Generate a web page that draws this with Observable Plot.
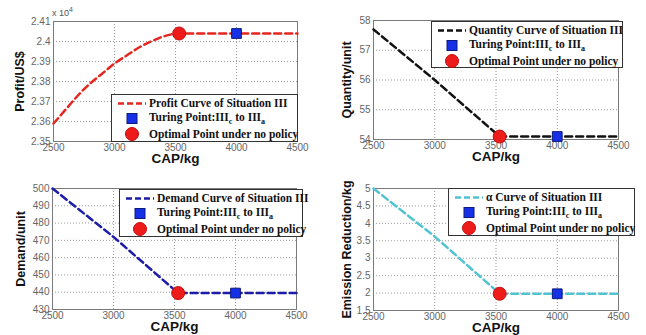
<!DOCTYPE html>
<html><head><meta charset="utf-8">
<script src="https://cdn.jsdelivr.net/npm/d3@7"></script>
<script src="https://cdn.jsdelivr.net/npm/@observablehq/plot@0.6"></script>
<style>
body{margin:0;background:#fff;}
#wrap{position:relative;width:646px;height:335px;overflow:hidden;background:#fff;font-family:"Liberation Sans",Arial,sans-serif;}
.panel{position:absolute;}
.legend{position:absolute;background:#fff;border:1px solid #333;box-sizing:border-box;font-family:"Liberation Serif","Times New Roman",serif;font-weight:bold;font-size:11.5px;color:#111;}
.legend .row{position:absolute;left:37px;white-space:nowrap;line-height:13px;}
.legend svg{position:absolute;left:0;top:0;}
.legend sub{font-size:8px;vertical-align:-3px;line-height:0;}
.exp{position:absolute;font-size:9px;color:#555;white-space:nowrap;}
.exp sup{font-size:7px;vertical-align:4px;line-height:0;}
</style></head><body><div id="wrap"></div>
<script>
// ---- data ----
const xTicks = [2500, 3000, 3500, 4000, 4500];
const xLabel = "CAP/kg";

const profitCap = [2500, 2600, 2700, 2800, 2900, 3000, 3100, 3200, 3300, 3400, 3530, 4500];
const profitVal = [2.359, 2.366, 2.373, 2.379, 2.384, 2.389, 2.393, 2.397, 2.400, 2.4025, 2.404, 2.404];
const profitTicks = [2.35, 2.36, 2.37, 2.38, 2.39, 2.40, 2.41];

const qtyCap = [2500, 2750, 3000, 3250, 3530, 4500];
const qtyVal = [57.7, 56.85, 56.0, 55.1, 54.1, 54.1];
const qtyTicks = [54, 55, 56, 57, 58];

const demandCap = [2500, 3000, 3530, 4500];
const demandVal = [500, 472, 439.5, 439.5];
const demandTicks = [430, 440, 450, 460, 470, 480, 490, 500];

const alphaCap = [2500, 3000, 3530, 4500];
const alphaVal = [5, 3.62, 1.98, 1.98];
const alphaTicks = [1.5, 2, 2.5, 3, 3.5, 4, 4.5, 5];

const optimalCap = 3530;  // Optimal Point under no policy
const turningCap = 4000;  // Turing Point
const profitPoint = 2.404, qtyPoint = 54.1, demandPoint = 439.5, alphaPoint = 1.98;

const yLabels = ["Profit/US$", "Quantity/unit", "Demand/unit", "Emission Reduction/kg"];
const curveLabels = ["Profit Curve of Situation III", "Quantity Curve of Situation III", "Demand Curve of Situation III", "α Curve of Situation III"];
const turnLabel = 'Turing Point:III<sub>c</sub> to III<sub>a</sub>';
const optLabel = "Optimal Point under no policy";

// ---- layout ----
const panels = [
  {left:0, top:0, w:323, h:168, ml:53, mr:26, mt:21, mb:27, cap:profitCap, val:profitVal, ticks:profitTicks, pt:profitPoint, color:"#e3261f", ylab:yLabels[0], yDx:-34, leg:{l:111,t:94,w:187,h:48}, curve:curveLabels[0], smooth:true},
  {left:323, top:0, w:323, h:168, ml:50, mr:28, mt:20, mb:29, cap:qtyCap, val:qtyVal, ticks:qtyTicks, pt:qtyPoint, color:"#111111", ylab:yLabels[1], yDx:-27, leg:{l:431,t:21,w:192,h:47}, curve:curveLabels[1]},
  {left:0, top:168, w:323, h:167, ml:52, mr:27, mt:20, mb:26, cap:demandCap, val:demandVal, ticks:demandTicks, pt:demandPoint, color:"#1c1ca6", ylab:yLabels[2], yDx:-32, leg:{l:119,t:189,w:184,h:48}, curve:curveLabels[2]},
  {left:323, top:168, w:323, h:167, ml:50, mr:28, mt:20, mb:25, cap:alphaCap, val:alphaVal, ticks:alphaTicks, pt:alphaPoint, color:"#52c3d0", ylab:yLabels[3], yDx:-27, leg:{l:448,t:188,w:187,h:48}, curve:curveLabels[3]}
];

const fmt = d => String(+(+d).toFixed(2));
const wrap = document.getElementById("wrap");

for (const p of panels) {
  const rows = p.cap.map((c, i) => ({cap: c, v: p.val[i]}));
  const chart = Plot.plot({
    width: p.w, height: p.h,
    marginLeft: p.ml, marginRight: p.mr, marginTop: p.mt, marginBottom: p.mb,
    style: {fontFamily: '"Liberation Sans", Arial, sans-serif', fontSize: "10px", color: "#666", background: "transparent", overflow: "visible"},
    x: {domain: [2500, 4500], label: null, axis: null},
    y: {domain: [p.ticks[0], p.ticks[p.ticks.length - 1]], label: null, axis: null},
    marks: [
      Plot.gridX(xTicks, {stroke: "#9a9a9a", strokeOpacity: 1, strokeDasharray: "1,2"}),
      Plot.gridY(p.ticks, {stroke: "#9a9a9a", strokeOpacity: 1, strokeDasharray: "1,2"}),
      Plot.frame({stroke: "#7a7a7a"}),
      Plot.text(xTicks, {x: d => d, text: d => String(d), frameAnchor: "bottom", lineAnchor: "top", dy: 2, fill: "#666", fontSize: 10}),
      Plot.text(p.ticks, {y: d => d, text: fmt, frameAnchor: "left", textAnchor: "end", lineAnchor: "middle", dx: -3, fill: "#666", fontSize: 10}),
      Plot.line(rows, {x: "cap", y: "v", stroke: p.color, strokeWidth: 2.5, strokeDasharray: "7,4", curve: p.smooth ? "monotone-x" : "linear"}),
      Plot.dot([{cap: turningCap, v: p.pt}], {x: "cap", y: "v", symbol: "square", r: 5.5, fill: "#1530e6", stroke: "#0c1a7a", strokeWidth: 1}),
      Plot.dot([{cap: optimalCap, v: p.pt}], {x: "cap", y: "v", r: 6.5, fill: "#ee1b1b", stroke: "#c40d0d", strokeWidth: 1}),
      Plot.text([xLabel], {frameAnchor: "bottom", textAnchor: "middle", lineAnchor: "middle", dy: 17, fontWeight: "bold", fontSize: 13.5, fill: "#111"}),
      Plot.text([p.ylab], {frameAnchor: "left", textAnchor: "middle", lineAnchor: "middle", dx: p.yDx, rotate: -90, fontWeight: "bold", fontSize: 12.5, fill: "#111"})
    ]
  });
  const div = document.createElement("div");
  div.className = "panel";
  div.style.left = p.left + "px"; div.style.top = p.top + "px";
  div.appendChild(chart);
  wrap.appendChild(div);

  // legend
  const L = p.leg;
  const lg = document.createElement("div");
  lg.className = "legend";
  lg.style.left = L.l + "px"; lg.style.top = L.t + "px";
  lg.style.width = L.w + "px"; lg.style.height = L.h + "px";
  lg.innerHTML =
    `<svg width="${L.w}" height="${L.h}">
       <line x1="6" x2="34" y1="8.5" y2="8.5" stroke="${p.color}" stroke-width="2.5" stroke-dasharray="6,3"/>
       <rect x="15" y="18.5" width="10" height="10" fill="#1530e6" stroke="#0c1a7a" stroke-width="1"/>
       <circle cx="20" cy="39" r="6.5" fill="#ee1b1b" stroke="#c40d0d" stroke-width="1"/>
     </svg>
     <div class="row" style="top:2px">${p.curve}</div>
     <div class="row" style="top:16px">${turnLabel}</div>
     <div class="row" style="top:33px">${optLabel}</div>`;
  wrap.appendChild(lg);
}

// exponent label for profit axis
const ex = document.createElement("div");
ex.className = "exp";
ex.style.left = "52px"; ex.style.top = "8px";
ex.innerHTML = "x 10<sup>4</sup>";
wrap.appendChild(ex);
</script>
</body></html>
